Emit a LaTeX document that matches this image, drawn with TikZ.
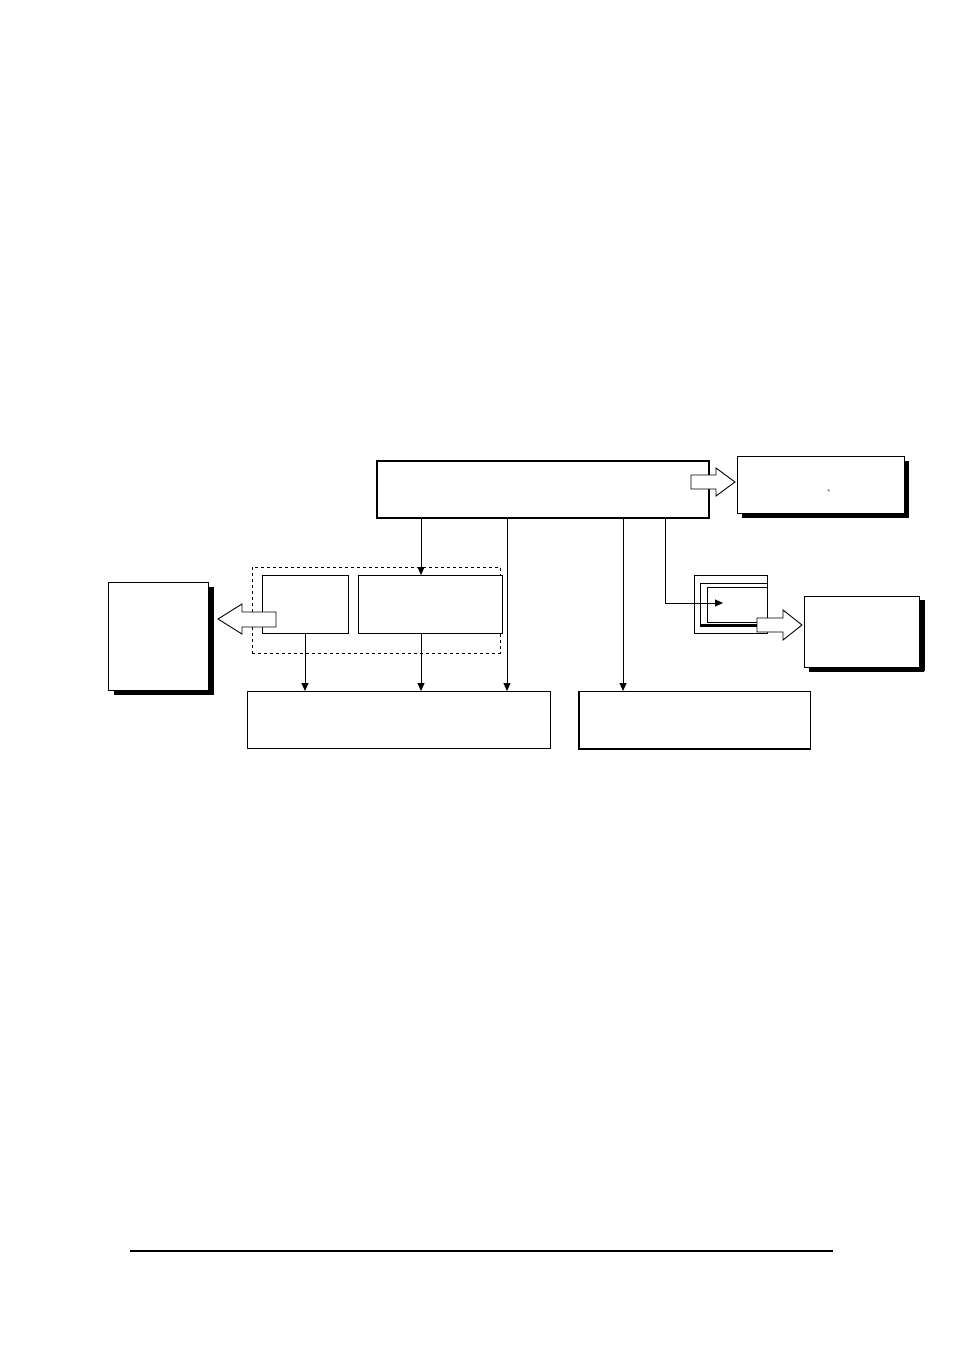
\documentclass[tikz,border=0pt]{standalone}
\usepackage{fontspec}
\newfontfamily\cjk{Noto Sans CJK SC}
\usetikzlibrary{arrows.meta,shadows}
\begin{document}
\begin{tikzpicture}[x=1pt,y=-1pt,
  box/.style={draw,line width=1pt,fill=white,inner sep=0pt,outer sep=0pt},
  sbox/.style={box,drop shadow={shadow xshift=5pt,shadow yshift=-5pt,fill=black,opacity=1}},
  dbox/.style={draw,line width=0.8pt,dash pattern=on 3pt off 3pt,inner sep=0pt,outer sep=0pt},
  frame/.style={draw,line width=1pt},
  conn/.style={line width=0.9pt,-{Triangle[length=8pt,width=7pt]}},
  hollow/.style={draw,line width=0.9pt,fill=white,line join=miter}
]
\useasboundingbox (0,0) rectangle (954,1351);
\fill[white] (0,0) rectangle (954,1351);

% boxes
\node[box,line width=1.4pt,minimum width=332pt,minimum height=57pt] (top) at (543,489.5) {};
\node[sbox,minimum width=167pt,minimum height=57pt] (r1) at (820.5,484.5) {};
\node[sbox,minimum width=115pt,minimum height=71pt,drop shadow={shadow xshift=6pt,shadow yshift=-4pt,fill=black,opacity=1}] (r2) at (861.5,631.5) {};
\node[box,minimum width=100pt,minimum height=108pt,drop shadow={shadow xshift=6pt,shadow yshift=-5pt,fill=black,opacity=1}] (lb) at (158,636) {};
\node[dbox,minimum width=248pt,minimum height=86pt] (grp) at (376,610) {};
\node[box,minimum width=86pt,minimum height=58pt] (A) at (305,604) {};
\node[box,minimum width=144pt,minimum height=58pt] (B) at (430,604) {};
\node[box,minimum width=303pt,minimum height=57pt] (b1) at (398.5,719.5) {};
\node[box,minimum width=231pt,minimum height=58pt] (b2) at (694.5,720) {};
\draw[line width=2.2pt] (b2.north west) |- (b2.south east);

% small mark in r1
\node[inner sep=0pt,font=\cjk\fontsize{8}{8}\selectfont] (mk) at (831,491) {、};

% stacked frames
\draw[frame] (694,575) rectangle (767,633);
\draw[frame,fill=white] (700,583) rectangle (767,626);
\draw[line width=2pt] (700,625) -- (767,625);
\draw[frame] (707,587) rectangle (767,622);
\coordinate (fin) at (723,603);

% connector x positions
\coordinate (xa) at (421,0);
\coordinate (xb) at (507,0);
\coordinate (xc) at (623,0);
\coordinate (xd) at (665,0);

\draw[conn] (top.south -| xa) -- (B.north -| xa);
\draw[conn] (A.south) -- (b1.north -| A.south);
\draw[conn] (B.south -| xa) -- (b1.north -| xa);
\draw[conn] (top.south -| xb) -- (b1.north -| xb);
\draw[conn] (top.south -| xc) -- (b2.north -| xc);
\draw[conn] (top.south -| xd) |- (fin);

% hollow arrows
\draw[hollow] (691,475) -- (716,475) -- (716,468) -- (735,482) -- (716,496) -- (716,489) -- (691,489) -- cycle;
\draw[hollow] (757,618) -- (783,618) -- (783,610) -- (802,625) -- (783,640) -- (783,632) -- (757,632) -- cycle;
\draw[hollow] (276,612) -- (242,612) -- (242,604) -- (218,619) -- (242,634) -- (242,627) -- (276,627) -- cycle;

% footer rule
\coordinate (fl) at (130,1251);
\coordinate (fr) at (833,1251);
\draw[line width=2.3pt] (fl) -- (fr);
\end{tikzpicture}
\end{document}
